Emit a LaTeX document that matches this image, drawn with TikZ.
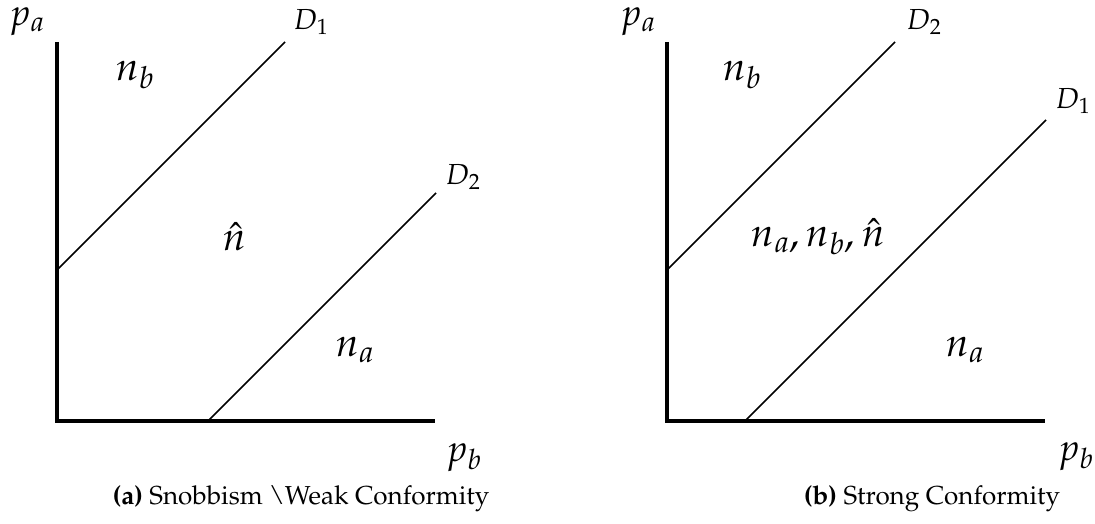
\documentclass[tikz,border=0pt]{standalone}
\usepackage[T1]{fontenc}
\usepackage{mathpazo}
\tikzset{
  axis/.style={line width=3.5pt},
  demand/.style={line width=1.5pt},
  small/.style={font=\fontsize{29}{34}\selectfont, inner sep=1pt},
  plab/.style={font=\fontsize{37}{44}\selectfont, inner sep=1pt},
  big/.style={font=\fontsize{40}{48}\selectfont, inner sep=1pt},
  capt/.style={font=\fontsize{26}{31}\selectfont}
}
\begin{document}
\begin{tikzpicture}[x=1pt,y=-1pt]
\useasboundingbox (0,0) rectangle (1095,524);
% left panel
\coordinate (La) at (57,42);
\coordinate (Lo) at (57,421);
\coordinate (Lb) at (435,421);
\draw[axis] (La) -- (Lo) -- (Lb);
\coordinate (L1s) at (57,270);
\coordinate (L1e) at (285,42);
\coordinate (L2s) at (208,421);
\coordinate (L2e) at (436,193);
\draw[demand] (L1s) -- (L1e);
\draw[demand] (L2s) -- (L2e);
\node[plab] (lpa) at (27,22) {$p_a$};
\node[small] (lD1) at (311,22) {$D_1$};
\node[small] (lD2) at (463,177) {$D_2$};
\node[big] (lnb) at (135,75) {$n_b$};
\node[big] (lnh) at (235,237) {$\hat{n}$};
\node[big] (lna) at (355,350) {$n_a$};
\node[plab] (lpb) at (464,458) {$p_b$};
\node[capt] (lcap) at (301,499) {\textbf{(a)} Snobbism \textbackslash Weak Conformity};
% right panel
\coordinate (Ra) at (667,42);
\coordinate (Ro) at (667,421);
\coordinate (Rb) at (1045,421);
\draw[axis] (Ra) -- (Ro) -- (Rb);
\coordinate (R2s) at (667,270);
\coordinate (R2e) at (895,42);
\coordinate (R1s) at (745,421);
\coordinate (R1e) at (1046,120);
\draw[demand] (R2s) -- (R2e);
\draw[demand] (R1s) -- (R1e);
\node[plab] (rpa) at (638,22) {$p_a$};
\node[small] (rD2) at (924,22) {$D_2$};
\node[small] (rD1) at (1073,101) {$D_1$};
\node[big] (rnb) at (742,75) {$n_b$};
\node[big] (rmid) at (818,237) {$n_a, n_b, \hat{n}$};
\node[big] (rna) at (965,350) {$n_a$};
\node[plab] (rpb) at (1076,457) {$p_b$};
\node[capt] (rcap) at (932,499) {\textbf{(b)} Strong Conformity};
\end{tikzpicture}
\end{document}
